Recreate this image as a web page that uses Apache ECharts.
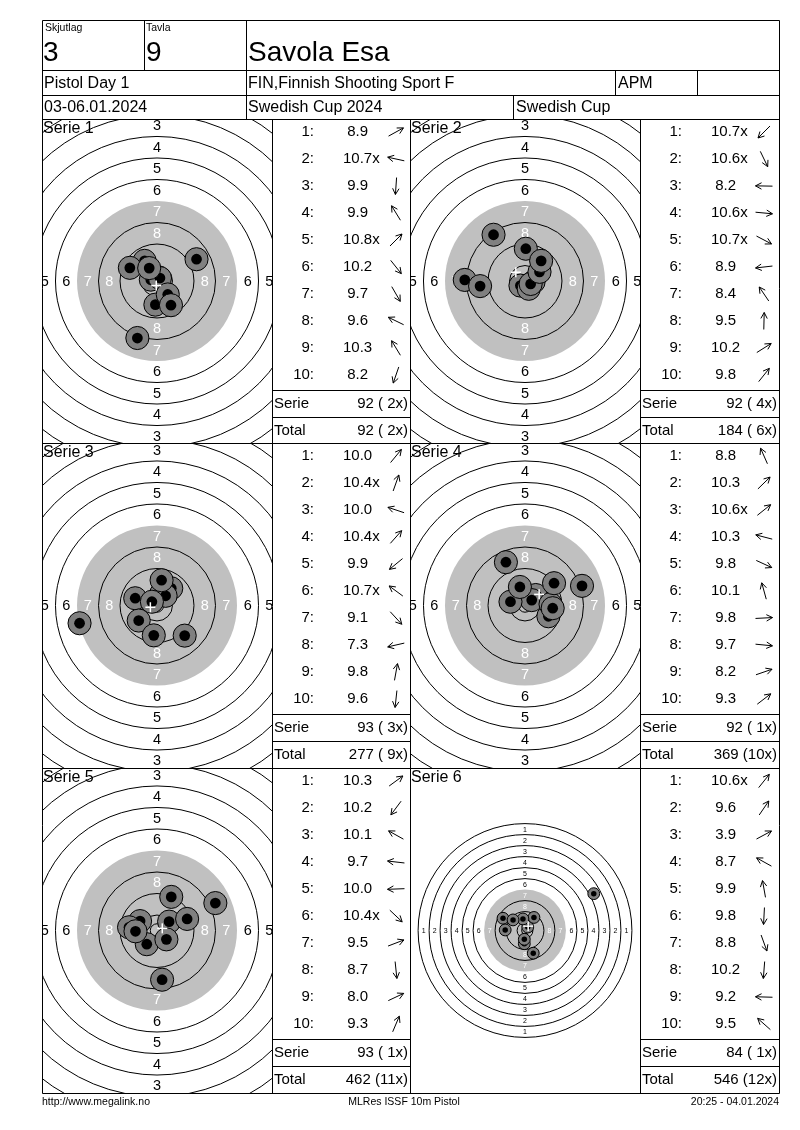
<!DOCTYPE html>
<html><head><meta charset="utf-8">
<script src="https://cdn.jsdelivr.net/npm/echarts@6/dist/echarts.min.js"></script>
<style>html,body{margin:0;padding:0;background:#fff}#c{width:800px;height:1130px}</style>
</head><body><div id="c"></div>
<script>
const FONT = '"Liberation Sans", Arial, sans-serif';

// ---- header texts ----
const skjutlagLabel = 'Skjutlag', skjutlagValue = '3';
const tavlaLabel = 'Tavla', tavlaValue = '9';
const shooterName = 'Savola Esa';
const eventName = 'Pistol Day 1';
const clubName = 'FIN,Finnish Shooting Sport F';
const className = 'APM';
const dateText = '03-06.01.2024';
const competitionName = 'Swedish Cup 2024';
const cupName = 'Swedish Cup';
const footerLeft = 'http://www.megalink.no';
const footerCenter = 'MLRes ISSF 10m Pistol';
const footerRight = '20:25 - 04.01.2024';

// ---- target definition (mm) ----
const ringNumbers   = [1, 2, 3, 4, 5, 6, 7, 8, 9, 10];
const ringRadiusMm  = [77.75, 69.75, 61.75, 53.75, 45.75, 37.75, 29.75, 21.75, 13.75, 5.75];
const innerTenMm = 2.5;

// ---- series data: scores, shot x/y in mm from centre ----
const serieNames = ['Serie 1', 'Serie 2', 'Serie 3', 'Serie 4', 'Serie 5', 'Serie 6'];

const serie1Scores = ['8.9', '10.7x', '9.9', '9.9', '10.8x', '10.2', '9.7', '9.6', '10.3', '8.2'];
const serie1X = [14.7, -2.3, -0.6, -4.6, 1.1, 4.0, 5.2, -10.1, -2.9, -7.3];
const serie1Y = [8.1, 0.5, -8.8, 7.5, 1.1, -5.0, -9.0, 4.9, 4.8, -21.2];

const serie2Scores = ['10.7x', '10.6x', '8.2', '10.6x', '10.7x', '8.9', '8.4', '9.5', '10.2', '9.8'];
const serie2X = [-1.7, 1.4, -22.4, 3.2, 2.1, -16.7, -11.7, 0.3, 5.4, 6.0];
const serie2Y = [-1.7, -2.9, 0.4, -0.3, -1.1, -1.9, 17.2, 12.0, 3.4, 7.5];

const serie3Scores = ['10.0', '10.4x', '10.0', '10.4x', '9.9', '10.7x', '9.1', '7.3', '9.8', '9.6'];
const serie3X = [5.3, 1.6, -8.1, 3.2, -6.8, -1.9, 10.3, -28.8, 1.7, -1.2];
const serie3Y = [6.4, 4.5, 2.7, 3.6, -5.6, 1.4, -11.2, -6.6, 9.4, -11.1];

const serie4Scores = ['8.8', '10.3', '10.6x', '10.3', '9.8', '10.1', '9.8', '9.7', '8.2', '9.3'];
const serie4X = [-7.1, 4.0, 2.5, -5.4, 8.7, -1.9, 9.5, 10.3, 21.2, 10.8];
const serie4Y = [16.1, 3.9, 2.0, 1.4, -4.0, 6.9, 0.5, -1.0, 7.3, 8.3];

const serie5Scores = ['10.3', '10.2', '10.1', '9.7', '10.0', '10.4x', '9.5', '8.7', '8.0', '9.3'];
const serie5X = [4.5, -3.8, -6.3, -10.4, -8.0, 3.5, 11.2, 1.9, 21.7, 5.3];
const serie5Y = [3.3, -5.1, 3.5, 1.2, -0.3, -3.3, 4.3, -18.3, 10.2, 12.5];

const serie6Scores = ['10.6x', '9.6', '3.9', '8.7', '9.9', '9.8', '8.8', '10.2', '9.2', '9.5'];
const serie6X = [2.0, 6.5, 50.0, -16.0, -1.5, -0.5, 6.0, -0.5, -14.4, -8.7];
const serie6Y = [2.5, 9.5, 26.8, 8.9, 8.4, -9.6, -16.5, -6.4, 0.4, 7.7];

const allScores = [serie1Scores, serie2Scores, serie3Scores, serie4Scores, serie5Scores, serie6Scores];
const allX = [serie1X, serie2X, serie3X, serie4X, serie5X, serie6X];
const allY = [serie1Y, serie2Y, serie3Y, serie4Y, serie5Y, serie6Y];

// ---- layout (pixels) ----
const panelLeft   = [42, 410, 42, 410, 42, 410];
const panelTop    = [119, 119, 443, 443, 768, 768];
const panelHeight = [324, 324, 325, 325, 325, 325];
const targetWidth = 230;
const tableRight  = [410, 779, 410, 779, 410, 779];
const pxPerMm     = [2.689, 2.689, 2.689, 2.689, 2.689, 1.375];
const ringLabelPx = [14.5, 14.5, 14.5, 14.5, 14.5, 7];
const shotOuterMm = 4.3, shotInnerMm = 2.0;

function makeTargetRenderer(fontPx) {
  return function (params, api) {
    const c = api.coord([0, 0]);
    const u = api.size([1, 1])[0];
    const ch = [];
    const r7 = ringRadiusMm[ringNumbers.indexOf(7)];
    ch.push({type: 'circle', shape: {cx: c[0], cy: c[1], r: r7 * u}, style: {fill: '#c0c0c0'}});
    ringRadiusMm.forEach((r, k) => {
      if (ringNumbers[k] === 7) return;
      ch.push({type: 'circle', shape: {cx: c[0], cy: c[1], r: r * u}, style: {fill: 'none', stroke: '#000', lineWidth: 1}});
    });
    ch.push({type: 'circle', shape: {cx: c[0], cy: c[1], r: innerTenMm * u}, style: {fill: 'none', stroke: '#000', lineWidth: 1}});
    ringNumbers.forEach((n, k) => {
      if (n > 8) return;
      const rm = (ringRadiusMm[k] - 4) * u;
      const col = n >= 7 ? '#ffffff' : '#000000';
      [[0, -1], [0, 1], [-1, 0], [1, 0]].forEach(d => {
        ch.push({type: 'text', style: {
          text: String(n), x: c[0] + d[0] * rm, y: c[1] + d[1] * rm + 0.5,
          fill: col, font: fontPx + 'px ' + FONT,
          align: 'center', verticalAlign: 'middle', textAlign: 'center', textVerticalAlign: 'middle'
        }});
      });
    });
    return {type: 'group', children: ch};
  };
}

function shotRenderer(params, api) {
  const p = api.coord([api.value(0), api.value(1)]);
  const u = api.size([1, 1])[0];
  return {type: 'group', children: [
    {type: 'circle', shape: {cx: p[0], cy: p[1], r: shotOuterMm * u}, style: {fill: '#808080', stroke: '#000', lineWidth: 1}},
    {type: 'circle', shape: {cx: p[0], cy: p[1], r: shotInnerMm * u}, style: {fill: '#000'}}
  ]};
}

function crossRenderer(params, api) {
  const p = api.coord([api.value(0), api.value(1)]);
  const a = 5;
  return {type: 'group', children: [
    {type: 'line', shape: {x1: p[0] - a, y1: p[1], x2: p[0] + a, y2: p[1]}, style: {stroke: '#fff', lineWidth: 1.5}},
    {type: 'line', shape: {x1: p[0], y1: p[1] - a, x2: p[0], y2: p[1] + a}, style: {stroke: '#fff', lineWidth: 1.5}}
  ]};
}

const grids = [], xAxes = [], yAxes = [], series = [], g = [];

function text(x, y, t, size, align, fill) {
  g.push({type: 'text', x: x, y: y, z: 100, silent: true, style: {
    text: t, font: size + 'px ' + FONT, fill: fill || '#000',
    align: align || 'left', verticalAlign: 'middle', textAlign: align || 'left', textVerticalAlign: 'middle'
  }});
}
function line(x1, y1, x2, y2) {
  g.push({type: 'line', z: 100, silent: true, shape: {x1: x1 + 0.5, y1: y1 + 0.5, x2: x2 + 0.5, y2: y2 + 0.5}, style: {stroke: '#000', lineWidth: 1}});
}
function arrow(cx, cy, ang) {
  const dx = Math.cos(ang), dy = -Math.sin(ang);
  const L = 8.5, hb = 6, hw = 3.2;
  const hx = cx + dx * L, hy = cy + dy * L;
  g.push({type: 'line', z: 100, silent: true, shape: {x1: cx - dx * L, y1: cy - dy * L, x2: hx, y2: hy}, style: {stroke: '#000', lineWidth: 1}});
  g.push({type: 'polyline', z: 100, silent: true, shape: {points: [
    [hx - dx * hb - dy * hw, hy - dy * hb + dx * hw], [hx, hy], [hx - dx * hb + dy * hw, hy - dy * hb - dx * hw]
  ]}, style: {stroke: '#000', lineWidth: 1, fill: 'none'}});
}

let runningTotal = 0, runningX = 0;
serieNames.forEach((name, i) => {
  const s = pxPerMm[i];
  const hw = targetWidth / 2 / s, hh = panelHeight[i] / 2 / s;
  grids.push({left: panelLeft[i], top: panelTop[i], width: targetWidth, height: panelHeight[i], show: false, outerBoundsMode: 'none'});
  xAxes.push({type: 'value', gridIndex: i, min: -hw, max: hw, show: false});
  yAxes.push({type: 'value', gridIndex: i, min: -hh, max: hh, show: false});
  const xs = allX[i], ys = allY[i];
  series.push({type: 'custom', xAxisIndex: i, yAxisIndex: i, clip: true, silent: true, z: 1,
    data: [[0, 0]], renderItem: makeTargetRenderer(ringLabelPx[i])});
  series.push({type: 'custom', xAxisIndex: i, yAxisIndex: i, clip: true, silent: true, z: 2,
    data: xs.map((x, k) => [x, ys[k]]), renderItem: shotRenderer});
  const mx = xs.reduce((a, b) => a + b, 0) / xs.length;
  const my = ys.reduce((a, b) => a + b, 0) / ys.length;
  series.push({type: 'custom', xAxisIndex: i, yAxisIndex: i, clip: true, silent: true, z: 3,
    data: [[mx, my]], renderItem: crossRenderer});

  // serie label
  text(panelLeft[i] + 1, panelTop[i] + 10, name, 16);

  // table
  const L = panelLeft[i] + targetWidth, R = tableRight[i], T = panelTop[i];
  const sc = allScores[i];
  let sum = 0, xc = 0;
  sc.forEach((v, k) => {
    const y = T + 13 + 27 * k;
    const num = parseFloat(v);
    sum += Math.floor(num);
    if (v.indexOf('x') >= 0) xc++;
    text(L + 42, y, (k + 1) + ':', 15, 'right');
    text(L + 71 + (num < 10 ? 4.2 : 0), y, v, 15, 'left');
    arrow(L + 124, y, Math.atan2(ys[k], xs[k]));
  });
  runningTotal += sum; runningX += xc;
  const fmt = (a, b) => a + ' (' + (b < 10 ? ' ' : '') + b + 'x)';
  line(L, T + 271, R, T + 271);
  line(L, T + 298, R, T + 298);
  text(L + 2, T + 284.5, 'Serie', 15, 'left');
  text(R - 2, T + 284.5, fmt(sum, xc), 15, 'right');
  text(L + 2, T + 311.5, 'Total', 15, 'left');
  text(R - 2, T + 311.5, fmt(runningTotal, runningX), 15, 'right');
});

// frame lines
line(42, 20, 779, 20); line(42, 1093, 779, 1093);
line(42, 20, 42, 1093); line(779, 20, 779, 1093);
line(42, 70, 779, 70); line(42, 95, 779, 95); line(42, 119, 779, 119);
line(42, 443, 779, 443); line(42, 768, 779, 768);
line(144, 20, 144, 70); line(246, 20, 246, 119);
line(615, 70, 615, 95); line(697, 70, 697, 95); line(513, 95, 513, 119);
line(272, 119, 272, 1093); line(410, 119, 410, 1093); line(640, 119, 640, 1093);

// header texts
text(45, 28, skjutlagLabel, 10.5);
text(146, 28, tavlaLabel, 10.5);
text(43, 53, skjutlagValue, 28);
text(146, 53, tavlaValue, 28);
text(248, 53, shooterName, 28);
text(44, 84, eventName, 16);
text(248, 84, clubName, 16);
text(618, 84, className, 16);
text(44, 108, dateText, 16);
text(248, 108, competitionName, 16);
text(516, 108, cupName, 16);
text(42, 1102, footerLeft, 10.5);
text(404, 1102, footerCenter, 10.5, 'center');
text(779, 1102, footerRight, 10.5, 'right');

const chart = echarts.init(document.getElementById('c'), null, {renderer: 'canvas'});
chart.setOption({
  animation: false,
  backgroundColor: '#ffffff',
  grid: grids, xAxis: xAxes, yAxis: yAxes, series: series,
  graphic: {elements: g}
});
</script>
</body></html>
